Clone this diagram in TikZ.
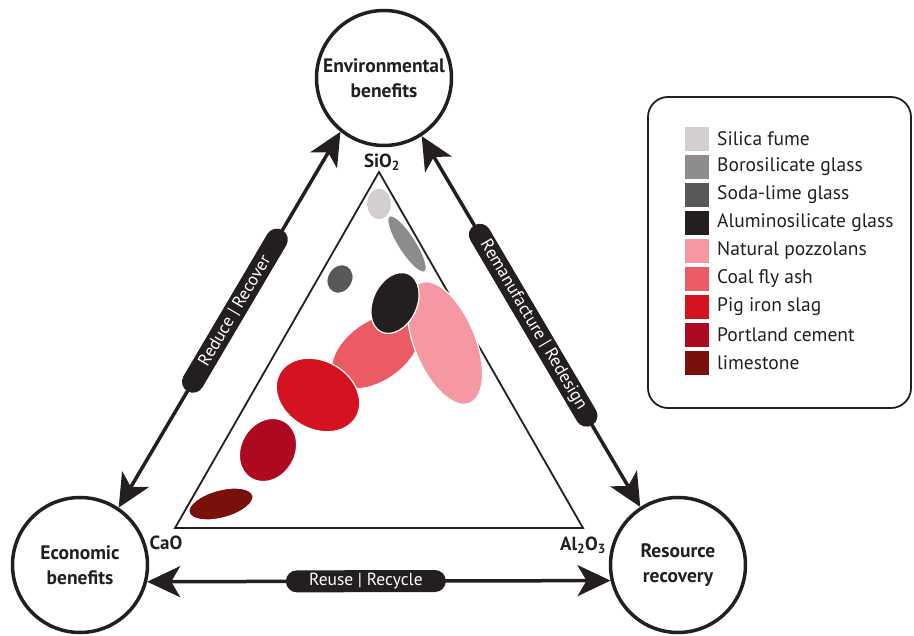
\documentclass[tikz,border=0pt]{standalone}
\usepackage{fontspec}
\setmainfont{PT Sans}
\usetikzlibrary{arrows.meta}

\definecolor{ink}{HTML}{231F20}
\definecolor{silica}{HTML}{D3CFD0}
\definecolor{boro}{HTML}{8D8B8C}
\definecolor{soda}{HTML}{59575A}
\definecolor{alumino}{HTML}{231F20}
\definecolor{pozz}{HTML}{F598A4}
\definecolor{flyash}{HTML}{EC5A63}
\definecolor{pigiron}{HTML}{D5121F}
\definecolor{portland}{HTML}{AD0A22}
\definecolor{lime}{HTML}{7A100C}

\begin{document}
\begin{tikzpicture}[x=1pt,y=-1pt,
  hub/.style={circle, draw=ink, line width=3.5pt, minimum size=135pt, inner sep=0pt,
    align=center, text=ink, font=\bfseries\fontsize{19.5}{25}\selectfont},
  link/.style={draw=ink, line width=3.5pt,
    {Stealth[length=33pt,width=31pt,inset=9pt]}-{Stealth[length=33pt,width=31pt,inset=9pt]}},
  pill/.style={fill=ink, text=white, rounded corners=11pt, minimum height=22pt,
    inner sep=0pt, sloped, font=\fontsize{17.5}{17.5}\selectfont},
  oxide/.style={text=ink, font=\bfseries\fontsize{19}{19}\selectfont, inner sep=0pt},
  blob/.style={draw=white, line width=1.2pt},
  swatch/.style={minimum size=24pt, inner sep=0pt},
  key/.style={anchor=west, text=ink, font=\fontsize{19.5}{20}\selectfont, inner sep=0pt}
]
\useasboundingbox (0,0) rectangle (914,636);

% ternary diagram frame
\coordinate (top) at (379,172);
\coordinate (left) at (175,528);
\coordinate (right) at (583,528);
\draw[ink, line width=1.8pt, line join=miter] (top) -- (left) -- (right) -- cycle;

% material fields
\fill[silica, blob] (379,204) ellipse [x radius=12.5, y radius=16];
\fill[boro, blob, rotate around={-57.5:(407,244)}] (407,244) ellipse [x radius=33, y radius=9];
\fill[soda, blob, rotate around={60:(340,279)}] (340,279) ellipse [x radius=15, y radius=12.5];
\fill[flyash, blob, rotate around={35:(376,351)}] (376,351) ellipse [x radius=50, y radius=30];
\fill[pozz, blob, rotate around={-67.6:(445,343)}] (445,343) ellipse [x radius=65, y radius=30.5];
\fill[alumino, blob, rotate around={65:(395,303)}] (395,303) ellipse [x radius=32, y radius=22];
\fill[pigiron, blob, rotate around={-30:(318,395)}] (318,395) ellipse [x radius=44, y radius=34];
\fill[portland, blob, rotate around={60:(268,450)}] (268,450) ellipse [x radius=33, y radius=27];
\fill[lime, blob, rotate around={15:(221,504)}] (221,504) ellipse [x radius=33, y radius=14];

% corner oxides
\node[oxide] (sio) at (382,162) {SiO\textsubscript{2}};
\node[oxide] (cao) at (166,543) {CaO};
\node[oxide] (alo) at (583,545) {Al\textsubscript{2}O\textsubscript{3}};

% the three benefit hubs
\node[hub] (env) at (384,78) {Environmental\\benefits};
\node[hub] (eco) at (80,565) {Economic\\benefits};
\node[hub] (res) at (678,565) {Resource\\recovery};

% strategies linking the hubs
\draw[link] (env.231.3) -- node[pill, pos=0.476, minimum width=187pt] {Reduce | Recover} (eco.56.8);
\draw[link] (env.303.5) -- node[pill, pos=0.51, minimum width=232pt] {Remanufacture | Redesign} (res.123.2);
\draw[link] (eco.346.8) -- node[pill, pos=0.472, minimum width=160pt] {Reuse | Recycle} (res.193.2);

% legend
\draw[ink, line width=1.8pt, rounded corners=20pt] (648,97) rectangle (911,408);
\foreach \c/\t [count=\i from 0] in {silica/Silica fume, boro/Borosilicate glass,
    soda/Soda-lime glass, alumino/Aluminosilicate glass, pozz/Natural pozzolans,
    flyash/Coal fly ash, pigiron/Pig iron slag, portland/Portland cement, lime/limestone}{
  \node[swatch, fill=\c] (sw\i) at (697,139+28*\i) {};
  \node[key] (lb\i) at (717,139+28*\i) {\t};
}
\end{tikzpicture}
\end{document}
